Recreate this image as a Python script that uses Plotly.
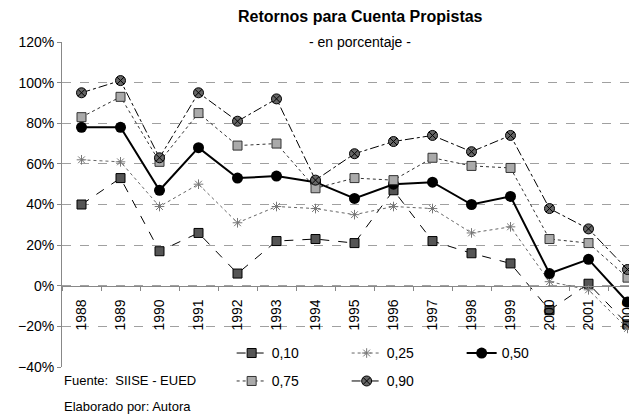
import plotly.graph_objects as go

years = ["1988", "1989", "1990", "1991", "1992", "1993", "1994", "1995",
         "1996", "1997", "1998", "1999", "2000", "2001", "2002"]
q10 = [40, 53, 17, 26, 6, 22, 23, 21, 47, 22, 16, 11, -12, 1, -19]
q25 = [62, 61, 39, 50, 31, 39, 38, 35, 39, 38, 26, 29, 2, -2, -21]
q50 = [78, 78, 47, 68, 53, 54, 51, 43, 50, 51, 40, 44, 6, 13, -8]
q75 = [83, 93, 61, 85, 69, 70, 48, 53, 52, 63, 59, 58, 23, 21, 4]
q90 = [95, 101, 63, 95, 81, 92, 52, 65, 71, 74, 66, 74, 38, 28, 8]

series = [
    ("0,10", q10, dict(color="black", width=1, dash="dash"),
     dict(symbol="square", size=9, color="#555555", line=dict(color="black", width=1)), "legend"),
    ("0,25", q25, dict(color="#666666", width=1, dash="dot"),
     dict(symbol="asterisk-open", size=8, color="#777777", line=dict(color="#777777", width=1)), "legend"),
    ("0,50", q50, dict(color="black", width=2),
     dict(symbol="circle", size=11, color="black"), "legend"),
    ("0,75", q75, dict(color="#333333", width=1, dash="dot"),
     dict(symbol="square", size=9, color="#aaaaaa", line=dict(color="#333333", width=1)), "legend2"),
    ("0,90", q90, dict(color="black", width=1, dash="dashdot"),
     dict(symbol="circle-x", size=10, color="#666666", line=dict(color="black", width=1)), "legend2"),
]

fig = go.Figure()
for name, vals, ln, mk, lg in series:
    fig.add_trace(go.Scatter(x=years, y=vals, name=name, mode="lines+markers",
                             line=ln, marker=mk, legend=lg))

leg_common = dict(orientation="h", xanchor="left", yanchor="top", bgcolor="white",
                  entrywidth=70, entrywidthmode="pixels", font=dict(size=14))

fig.update_layout(
    width=639, height=416,
    margin=dict(l=54, r=0, t=34, b=57, autoexpand=False),
    paper_bgcolor="white", plot_bgcolor="white",
    font=dict(family="Liberation Sans, Arial, sans-serif", size=14, color="black"),
    showlegend=True,
    legend=dict(x=0.29, y=0.091, **leg_common),
    legend2=dict(x=0.29, y=0.005, **leg_common),
    xaxis=dict(type="category", range=[-0.5, 14.5], anchor="free", position=0.25,
               showline=True, linecolor="#888888", linewidth=1,
               ticks="outside", ticklen=4, tickcolor="#888888", tickson="boundaries",
               tickangle=-90, showgrid=False, tickfont=dict(size=14),
               ticklabeloverflow="allow", ticklabelstandoff=7),
    yaxis=dict(range=[-40, 120], dtick=20, ticksuffix="%", showline=True,
               linecolor="#888888", linewidth=1, ticks="outside", ticklen=4,
               tickcolor="#888888", showgrid=True, gridcolor="#a0a0a0",
               griddash="dash", gridwidth=1, zeroline=False, tickfont=dict(size=14)),
)

fig.add_annotation(text="<b>Retornos para Cuenta Propistas</b>", xref="paper", yref="paper",
                   x=0.51, y=1.0, yanchor="middle", yshift=26, showarrow=False,
                   font=dict(size=16))
fig.add_annotation(text="- en porcentaje -", xref="paper", yref="paper",
                   x=0.51, y=1.0, yanchor="middle", yshift=0, showarrow=False,
                   font=dict(size=14), bgcolor="white")
fig.add_annotation(text="Fuente:  SIISE - EUED", xref="paper", yref="paper",
                   x=0, y=0, xanchor="left", yanchor="middle", yshift=-13,
                   showarrow=False, font=dict(size=13))
fig.add_annotation(text="Elaborado por: Autora", xref="paper", yref="paper",
                   x=0, y=0, xanchor="left", yanchor="middle", yshift=-39,
                   showarrow=False, font=dict(size=13))

fig.write_html("out.html")
